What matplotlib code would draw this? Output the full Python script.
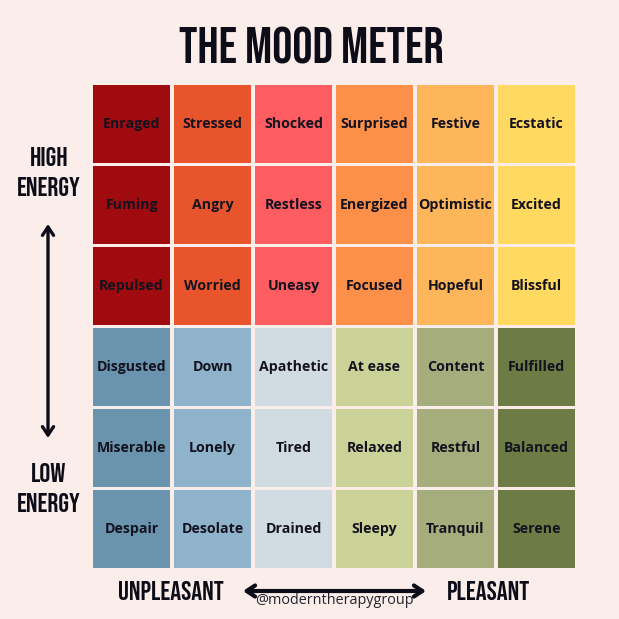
import matplotlib as mpl
mpl.use('Agg')
import matplotlib.pyplot as plt
from matplotlib.patches import Rectangle, FancyArrowPatch

moods = [
  ["Enraged", "Stressed", "Shocked", "Surprised", "Festive", "Ecstatic"],
  ["Fuming", "Angry", "Restless", "Energized", "Optimistic", "Excited"],
  ["Repulsed", "Worried", "Uneasy", "Focused", "Hopeful", "Blissful"],
  ["Disgusted", "Down", "Apathetic", "At ease", "Content", "Fulfilled"],
  ["Miserable", "Lonely", "Tired", "Relaxed", "Restful", "Balanced"],
  ["Despair", "Desolate", "Drained", "Sleepy", "Tranquil", "Serene"],
]
high_colors = ["#a00b10", "#e8552c", "#fd5c60", "#fd9049", "#fdb659", "#ffd960"]
low_colors = ["#6a93ae", "#8fb3ca", "#d0dce2", "#cbd297", "#a5ad7c", "#6d7b45"]

BG = "#fbeeea"
INK = "#0c0d18"
HEAD = ["Bebas Neue", "Oswald", "DejaVu Sans"]
BODY = ["Open Sans", "DejaVu Sans"]

fig = plt.figure(figsize=(6.19, 6.19), dpi=100, facecolor=BG)
# axes are half a gap wider than the visible grid on each side
ax = fig.add_axes([91.15 / 619, 1 - 569.4 / 619, 485.7 / 619, 485.7 / 619])
ax.set_xlim(0, 6)
ax.set_ylim(6, 0)
ax.axis("off")

gap = 0.041
for r, row in enumerate(moods):
  colors = high_colors if r < 3 else low_colors
  for c, name in enumerate(row):
    ax.add_patch(Rectangle((c + gap / 2, r + gap / 2), 1 - gap, 1 - gap, facecolor=colors[c], edgecolor="none"))
    ax.text(c + 0.5, r + 0.5, name, ha="center", va="center", fontsize=10.2,
            fontweight="bold", family=BODY, color="#14121f")

def label(x, y, s, size):
  fig.text(x / 619, 1 - y / 619, s, ha="center", va="center_baseline", fontsize=size,
           family=HEAD, color=INK)

label(311.5, 45, "THE MOOD METER", 36.3)
label(49, 157, "HIGH", 19.5)
label(49, 186, "ENERGY", 19.5)
label(49, 473, "LOW", 19.5)
label(49, 502, "ENERGY", 19.5)
label(171, 590, "UNPLEASANT", 19.5)
label(489, 590, "PLEASANT", 19.5)

def arrow(x0, y0, x1, y1, lw):
  fig.add_artist(FancyArrowPatch(
    (x0 / 619, 1 - y0 / 619), (x1 / 619, 1 - y1 / 619), transform=fig.transFigure,
    arrowstyle="<->,head_length=6,head_width=4", color=INK, lw=lw, shrinkA=0, shrinkB=0,
    mutation_scale=1))

arrow(48, 224, 48, 438, 2.4)
arrow(243, 591, 426, 591, 3)

fig.text(334 / 619, 1 - 600 / 619, "@moderntherapygroup", ha="center", va="center",
         fontsize=10.4, family=BODY, color="#22222c")

fig.savefig("out.png", dpi=100, facecolor=BG)
